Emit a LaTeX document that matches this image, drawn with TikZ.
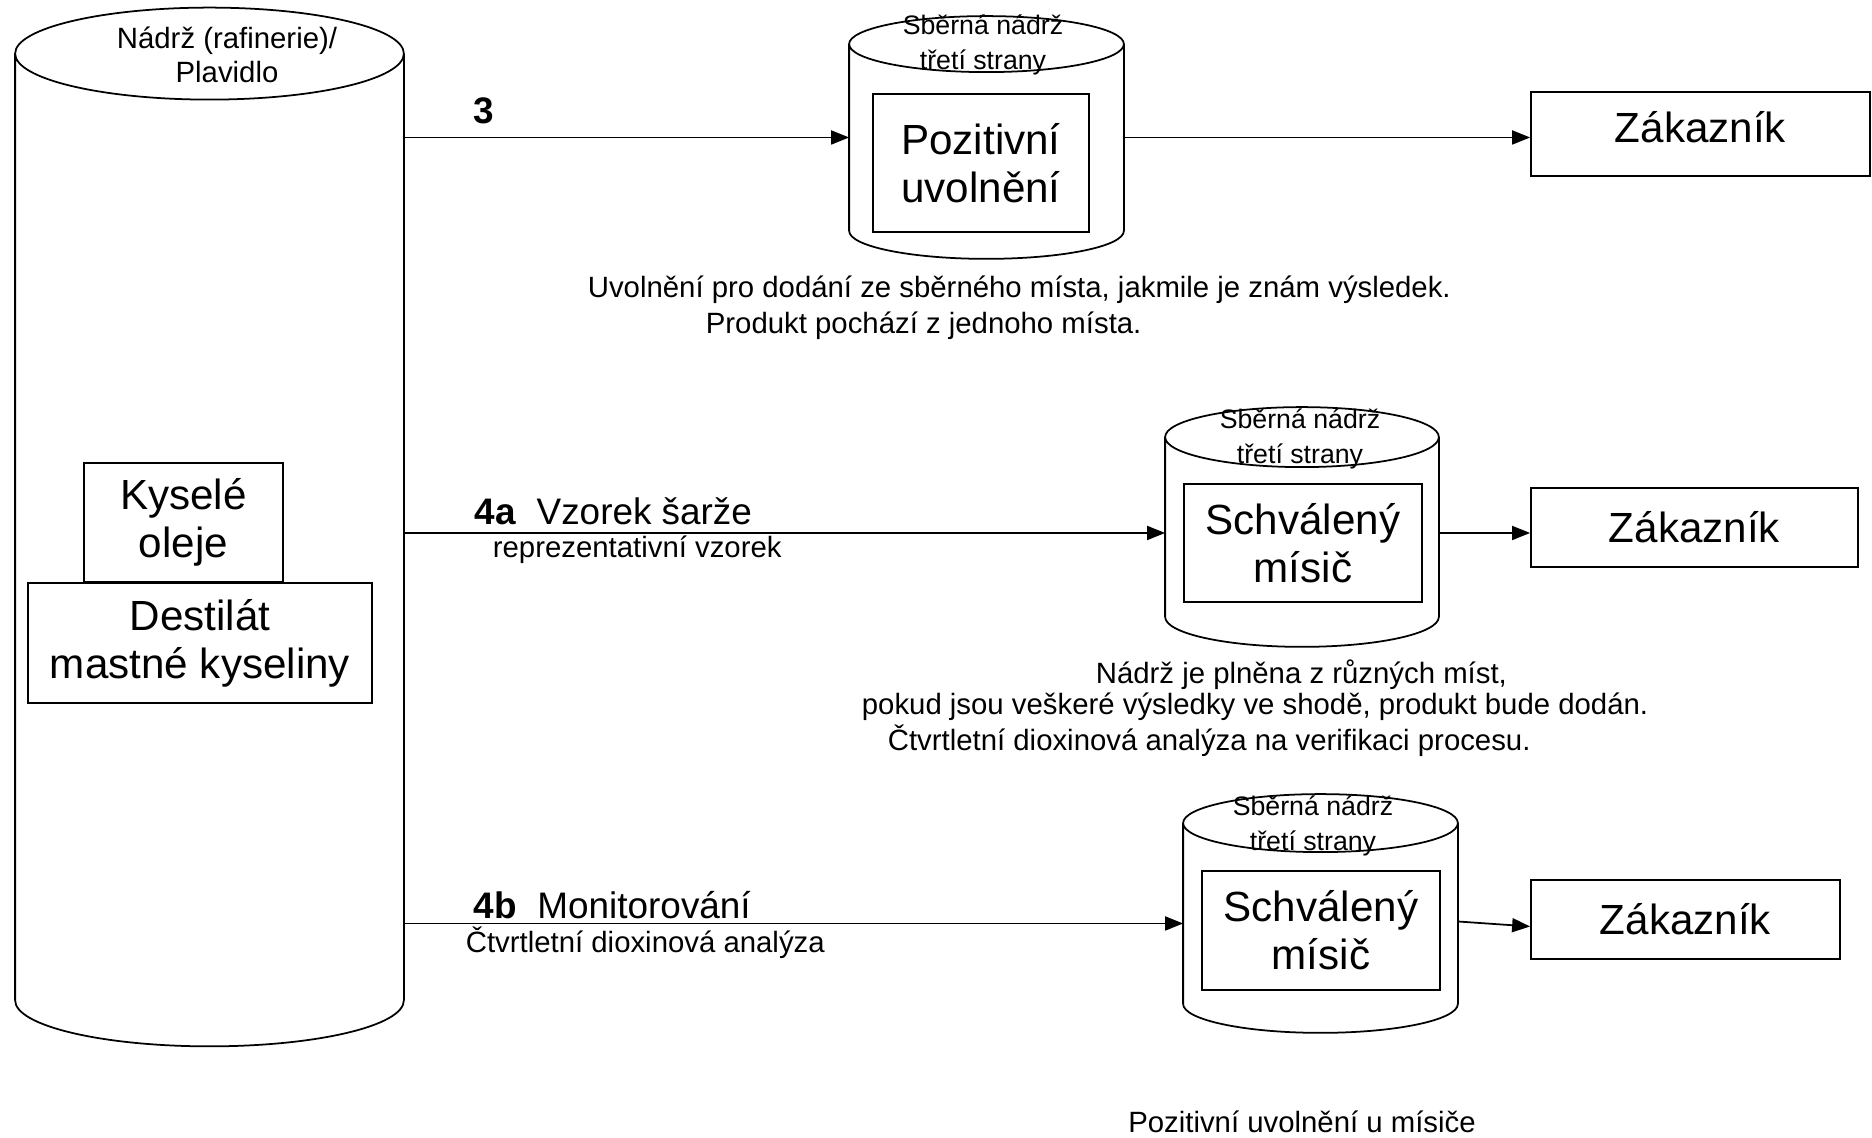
\documentclass[tikz,border=0pt]{standalone}
\usepackage{fontspec}
\setmainfont{Liberation Sans}
\usetikzlibrary{arrows.meta,calc}

\newcommand{\bigfont}{\fontsize{12}{13.7}\selectfont}
\newcommand{\midfont}{\fontsize{10.5}{12}\selectfont}
\newcommand{\smallfont}{\fontsize{8.35}{9.7}\selectfont}
\newcommand{\tinyfont}{\fontsize{7.6}{9.7}\selectfont}

% obrys valcove nadrze kolem pojmenovaneho uzlu
\newcommand{\tankoutline}[2]{%
  \draw let \p1=(#1.north west), \p2=(#1.south east), \n1={(\x2-\x1)/2} in
    (\x1,\y1-#2) -- (\x1,\y2+#2)
    arc[start angle=180,end angle=360,x radius=\n1,y radius=#2]
    -- (\x2,\y1-#2)
    arc[start angle=0,end angle=360,x radius=\n1,y radius=#2];
}

\tikzset{
  tank/.style={inner sep=0pt},
  box/.style={draw, align=center, inner sep=0pt, font=\bigfont},
  tanklabel/.style={align=center, inner sep=0pt, font=\smallfont},
  colllabel/.style={align=center, inner sep=0pt, font=\tinyfont},
  note/.style={anchor=west, inner sep=0pt, font=\smallfont},
  flowlabel/.style={anchor=west, inner sep=0pt, font=\midfont},
  flow/.style={-{Triangle[length=1.8mm,width=1.4mm]}},
}

\begin{document}
\begin{tikzpicture}[line width=0.5pt]
	\useasboundingbox (0,0) rectangle (18.72,11.38) ;
	% zdrojova nadrz
	\node[tank, minimum width=3.87cm, minimum height=10.37cm] (tank) at (2.095,6.11) {} ;
	\tankoutline{tank}{0.46cm}
	\node[tanklabel] (tanklab) at (2.27,10.83) {Nádrž (rafinerie)/\\Plavidlo} ;
	\node[box, minimum width=1.99cm, minimum height=1.19cm] (acid) at (1.835,6.155) {\fontsize{12}{14.2}\selectfont Kyselé\\oleje} ;
	\node[box, minimum width=3.44cm, minimum height=1.20cm] (dest) at (2.00,4.95) {\fontsize{12}{14.4}\selectfont Destilát\\mastné kyseliny} ;
	% 3
	\node[tank, minimum width=2.73cm, minimum height=2.41cm] (coll1) at (9.865,10.005) {} ;
	\tankoutline{coll1}{0.28cm}
	\node[colllabel] (coll1lab) at (9.83,10.93) {Sběrná nádrž\\třetí strany} ;
	\node[box, minimum width=2.16cm, minimum height=1.38cm] (posrel) at (9.81,9.75) {Pozitivní\\uvolnění} ;
	\node[box, text depth=0.4em, minimum width=3.39cm, minimum height=0.84cm] (cust1) at (17.005,10.04) {Zákazník} ;
	\draw[flow] (tank.east |- coll1.east) -- (coll1.west) ;
	\draw[flow] (coll1.east) -- (coll1.east -| cust1.west) ;
	\node[flowlabel] (lab3) at (4.73,10.27) {\textbf{3}} ;
	\node[note] (note1a) at (5.87,8.48) {Uvolnění pro dodání ze sběrného místa, jakmile je znám výsledek.} ;
	\node[note] (note1b) at (7.05,8.12) {Produkt pochází z jednoho místa.} ;
	% 4a
	\node[tank, minimum width=2.72cm, minimum height=2.38cm] (coll2) at (13.02,6.11) {} ;
	\tankoutline{coll2}{0.30cm}
	\node[colllabel] (coll2lab) at (13.00,6.99) {Sběrná nádrž\\třetí strany} ;
	\node[box, minimum width=2.38cm, minimum height=1.18cm] (mixer1) at (13.03,5.95) {Schválený\\mísič} ;
	\node[box, minimum width=3.27cm, minimum height=0.79cm] (cust2) at (16.945,6.105) {Zákazník} ;
	\coordinate (in2) at ([yshift=-0.06cm]coll2.west) ;
	\draw[flow] (tank.east |- in2) -- (in2) ;
	\draw[flow] (in2 -| coll2.east) -- (in2 -| cust2.west) ;
	\node[flowlabel] (lab4a) at (4.74,6.27) {\textbf{4a}~~Vzorek šarže} ;
	\node[note] (sub4a) at (4.92,5.88) {reprezentativní vzorek} ;
	\node[note] (note2a) at (10.95,4.63) {Nádrž je plněna z různých míst,} ;
	\node[note] (note2b) at (8.61,4.31) {pokud jsou veškeré výsledky ve shodě, produkt bude dodán.} ;
	\node[note] (note2c) at (8.87,3.97) {Čtvrtletní dioxinová analýza na verifikaci procesu.} ;
	% 4b
	\node[tank, minimum width=2.73cm, minimum height=2.37cm] (coll3) at (13.205,2.245) {} ;
	\tankoutline{coll3}{0.29cm}
	\node[colllabel] (coll3lab) at (13.13,3.12) {Sběrná nádrž\\třetí strany} ;
	\node[box, minimum width=2.38cm, minimum height=1.19cm] (mixer2) at (13.21,2.075) {Schválený\\mísič} ;
	\node[box, minimum width=3.09cm, minimum height=0.79cm] (cust3) at (16.855,2.185) {Zákazník} ;
	\coordinate (in3) at ([yshift=-0.1cm]coll3.west) ;
	\coordinate (out3) at ([yshift=-0.08cm]coll3.east) ;
	\draw[flow] (tank.east |- in3) -- (in3) ;
	\draw[flow] (out3) -- ([yshift=-0.07cm]cust3.west) ;
	\node[flowlabel] (lab4b) at (4.73,2.33) {\textbf{4b}~~Monitorování} ;
	\node[note] (sub4b) at (4.65,1.95) {Čtvrtletní dioxinová analýza} ;
	\node[tanklabel] (bottom) at (13.02,0.16) {Pozitivní uvolnění u mísiče} ;
\end{tikzpicture}
\end{document}
